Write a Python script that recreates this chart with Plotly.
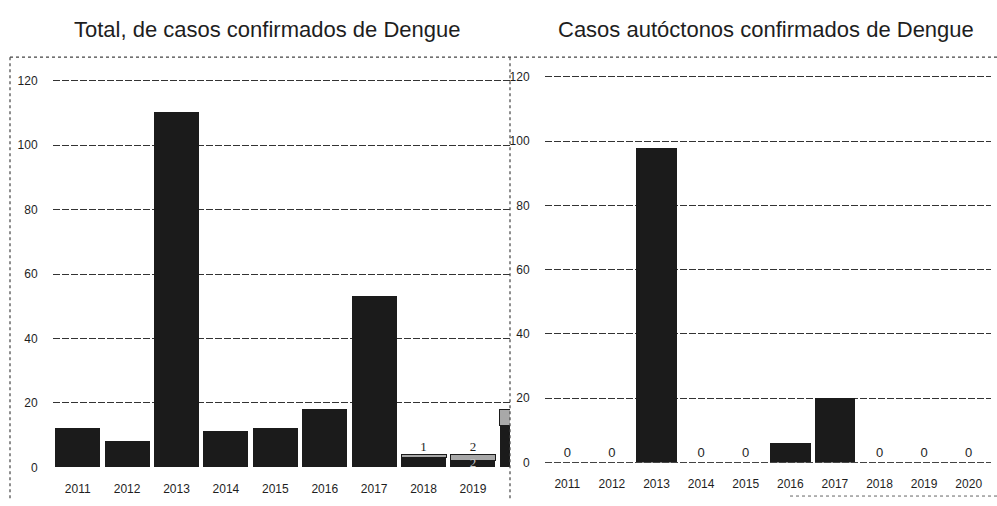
import plotly.graph_objects as go

# Dengue confirmed cases per year
years = ["2011", "2012", "2013", "2014", "2015", "2016", "2017", "2018", "2019", "2020"]
total_main = [12, 8, 110, 11, 12, 18, 53, 3, 2, 13]
total_extra = [0, 0, 0, 0, 0, 0, 0, 1, 2, 5]
autoctonos = [0, 0, 98, 0, 0, 6, 20, 0, 0, 0]

W, H = 997, 506
DARK = "#1b1b1b"
LIGHT = "#a8a8a8"
INK = "#1e1e1e"
FONT_TICK = dict(family="Liberation Sans Narrow, Liberation Sans, Arial", size=12, color=INK)


def px_x(p):
    return p / W


def px_y(p):
    return 1 - p / H


fig = go.Figure()

# Left panel: stacked totals
fig.add_trace(go.Bar(x=years, y=total_main, marker=dict(color=DARK, line=dict(width=0)),
                     xaxis="x", yaxis="y", showlegend=False))
fig.add_trace(go.Bar(x=years, y=total_extra, marker=dict(color=LIGHT, line=dict(color=DARK, width=1)),
                     xaxis="x", yaxis="y", showlegend=False))

# value labels for the small stacked segments
lab_x, lab_y, lab_t = [], [], []
for yr, m, e in zip(years[:9], total_main[:9], total_extra[:9]):
    if e > 0:
        lab_x.append(yr)
        lab_y.append(m + e)
        lab_t.append(str(e))
fig.add_trace(go.Scatter(x=lab_x, y=lab_y, text=lab_t, mode="text", textposition="top center",
                         textfont=dict(family="Liberation Serif, serif", size=13, color=INK),
                         xaxis="x", yaxis="y", showlegend=False, cliponaxis=False))
fig.add_trace(go.Scatter(x=[years[8]], y=[total_main[8] / 2], text=[str(total_main[8])], mode="text",
                         textposition="middle center",
                         textfont=dict(family="Liberation Serif, serif", size=13, color="#c8c8c8"),
                         xaxis="x", yaxis="y", showlegend=False, cliponaxis=False))

# Right panel: autochthonous cases
fig.add_trace(go.Bar(x=years, y=autoctonos,
                     text=["0" if v == 0 else "" for v in autoctonos],
                     textposition="outside",
                     textfont=dict(family="Liberation Sans Narrow, Liberation Sans", size=13, color=INK),
                     marker=dict(color=DARK, line=dict(width=0)),
                     xaxis="x2", yaxis="y2", showlegend=False, cliponaxis=False))

grid = dict(showgrid=True, gridcolor="#333333", gridwidth=1, griddash="7px,2px")

fig.update_layout(
    width=W, height=H,
    margin=dict(l=0, r=0, t=0, b=0),
    paper_bgcolor="white", plot_bgcolor="white",
    barmode="stack", bargap=0.09,
    xaxis=dict(domain=[px_x(53), px_x(510)], range=[-0.5, 8.75], type="category",
               tickfont=FONT_TICK, ticks="outside", ticklen=10, tickcolor="white",
               showline=False, showgrid=False, fixedrange=True),
    yaxis=dict(domain=[px_y(474), px_y(58)], range=[0, 127.3], tickvals=[0, 20, 40, 60, 80, 100, 120],
               tickfont=FONT_TICK, ticks="outside", ticklen=12, tickcolor="white",
               zeroline=False, showline=False, **grid),
    xaxis2=dict(domain=[px_x(545), px_x(991)], range=[-0.5, 9.5], type="category",
                tickfont=FONT_TICK, ticks="outside", ticklen=10, tickcolor="white",
                showline=False, showgrid=False, anchor="y2"),
    yaxis2=dict(domain=[px_y(469), px_y(57)], range=[0, 126.4], tickvals=[0, 20, 40, 60, 80, 100, 120],
                tickfont=FONT_TICK, ticks="outside", ticklen=12, tickcolor="white",
                zeroline=False, showline=False, anchor="x2", **grid),
    annotations=[
        dict(text="Total, de casos confirmados de Dengue", x=px_x(267), y=px_y(30), xref="paper", yref="paper",
             xanchor="center", yanchor="middle",
             showarrow=False, font=dict(family="Liberation Sans, Arial", size=22, color=INK)),
        dict(text="Casos autóctonos confirmados de Dengue", x=px_x(766), y=px_y(30), xref="paper", yref="paper",
             xanchor="center", yanchor="middle",
             showarrow=False, font=dict(family="Liberation Sans, Arial", size=22, color=INK)),
    ],
    shapes=[
        # panel frames (dotted)
        dict(type="line", xref="paper", yref="paper", x0=px_x(10), x1=px_x(997), y0=px_y(58), y1=px_y(58),
             line=dict(color="#444", width=1.2, dash="dot")),
        dict(type="line", xref="paper", yref="paper", x0=px_x(10), x1=px_x(10), y0=px_y(58), y1=px_y(506),
             line=dict(color="#444", width=1.2, dash="dot")),
        dict(type="line", xref="paper", yref="paper", x0=px_x(510), x1=px_x(510), y0=px_y(58), y1=px_y(506),
             line=dict(color="#444", width=1.2, dash="dot")),
        dict(type="line", xref="paper", yref="paper", x0=px_x(790), x1=px_x(997), y0=px_y(503), y1=px_y(503),
             line=dict(color="#666", width=1, dash="dot")),
        # baseline of the right panel
        dict(type="line", xref="paper", yref="paper", x0=px_x(545), x1=px_x(991), y0=px_y(469), y1=px_y(469),
             line=dict(color="#444", width=1, dash="7px,2px")),
    ],
)

fig.write_html("out.html")
